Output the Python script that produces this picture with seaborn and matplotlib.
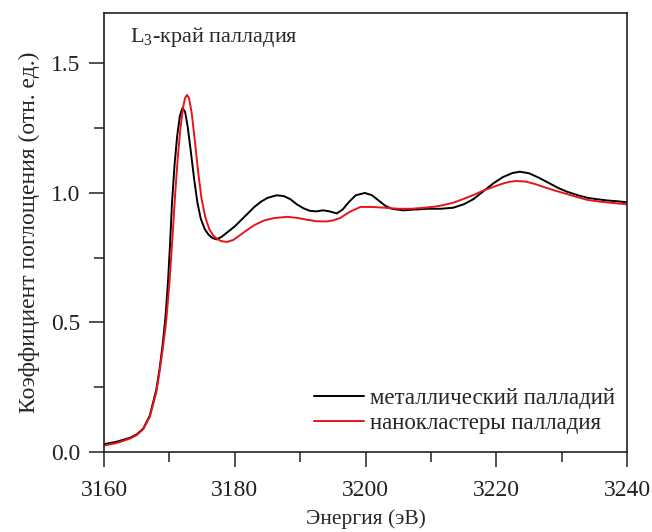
import numpy as np
import pandas as pd
import matplotlib
matplotlib.use("Agg")
import matplotlib.pyplot as plt
import seaborn as sns
from matplotlib.ticker import MultipleLocator

# Energy (eV) and absorption for metallic Pd
metal_E = [3160, 3162, 3164, 3165, 3166, 3167, 3168, 3168.5, 3169, 3169.4, 3169.8, 3170.1, 3170.4,
           3170.8, 3171.2, 3171.6, 3172.0, 3172.4, 3172.8, 3173.3, 3173.8, 3174.3, 3174.8, 3175.4,
           3176.0, 3176.6, 3177.2, 3178.0, 3179.0, 3180.0, 3181.0, 3182.0, 3183.0, 3184.0, 3185.0,
           3186.4, 3187.5, 3188.5, 3189.5, 3190.5, 3191.5, 3192.5, 3193.5, 3194.5, 3195.6, 3196.5,
           3197.5, 3198.5, 3199.9, 3201.0, 3202.0, 3203.0, 3204.0, 3205.7, 3207.5, 3209.5, 3211.5,
           3213.4, 3215.0, 3216.5, 3218.0, 3219.5, 3221.0, 3222.5, 3223.6, 3225.0, 3226.5, 3228.0,
           3229.5, 3230.8, 3232.5, 3234.0, 3235.4, 3237.0, 3238.5, 3240]
metal_mu = [0.030, 0.040, 0.055, 0.068, 0.090, 0.140, 0.240, 0.320, 0.420, 0.520, 0.660, 0.800, 0.960,
            1.110, 1.220, 1.295, 1.327, 1.312, 1.255, 1.155, 1.050, 0.960, 0.900, 0.860,
            0.838, 0.825, 0.820, 0.830, 0.850, 0.870, 0.895, 0.920, 0.945, 0.965, 0.980,
            0.990, 0.987, 0.975, 0.955, 0.940, 0.930, 0.928, 0.932, 0.928, 0.920, 0.935,
            0.965, 0.990, 0.999, 0.990, 0.970, 0.950, 0.938, 0.932, 0.935, 0.938, 0.938,
            0.942, 0.955, 0.975, 1.005, 1.035, 1.060, 1.076, 1.081, 1.075, 1.058, 1.038,
            1.018, 1.004, 0.990, 0.980, 0.975, 0.970, 0.967, 0.963]

# Energy (eV) and absorption for Pd nanoclusters
nano_E = [3160, 3162, 3164, 3165, 3166, 3167, 3168, 3168.5, 3169, 3169.5, 3170.0, 3170.4, 3170.9,
          3171.3, 3171.7, 3172.1, 3172.4, 3172.7, 3173.0, 3173.4, 3173.9, 3174.4, 3174.9, 3175.5,
          3176.1, 3176.7, 3177.4, 3178.0, 3178.8, 3179.8, 3181.0, 3182.0, 3183.0, 3184.5, 3186.0,
          3188.0, 3189.5, 3191.0, 3192.5, 3194.0, 3195.0, 3196.1, 3197.5, 3199.2, 3201.0, 3203.0,
          3205.0, 3207.0, 3209.0, 3210.5, 3211.9, 3213.5, 3215.0, 3216.5, 3218.0, 3219.5, 3221.0,
          3222.0, 3223.1, 3224.5, 3226.0, 3227.5, 3229.0, 3230.8, 3232.5, 3234.0, 3236.0, 3238.0, 3240]
nano_mu = [0.025, 0.035, 0.052, 0.065, 0.088, 0.135, 0.230, 0.310, 0.400, 0.500, 0.650, 0.800, 1.000,
           1.140, 1.250, 1.330, 1.365, 1.377, 1.365, 1.310, 1.200, 1.080, 0.980, 0.905,
           0.860, 0.835, 0.820, 0.813, 0.810, 0.818, 0.840, 0.858, 0.875, 0.893, 0.902,
           0.907, 0.903, 0.896, 0.890, 0.889, 0.893, 0.902, 0.925, 0.945, 0.945, 0.942,
           0.938, 0.938, 0.942, 0.946, 0.952, 0.962, 0.976, 0.991, 1.008, 1.022, 1.035,
           1.042, 1.045, 1.043, 1.033, 1.020, 1.008, 0.995, 0.982, 0.972, 0.965, 0.960, 0.955]

label_metal = "металлический палладий"
label_nano = "нанокластеры палладия"

df = pd.concat([
    pd.DataFrame({"E": metal_E, "mu": metal_mu, "sample": label_metal}),
    pd.DataFrame({"E": nano_E, "mu": nano_mu, "sample": label_nano}),
], ignore_index=True)

sns.set_style("ticks")
plt.rcParams['font.family'] = ['Liberation Serif', 'DejaVu Serif']
plt.rcParams['mathtext.fontset'] = 'custom'
plt.rcParams['mathtext.rm'] = 'Liberation Serif'

fig = plt.figure(figsize=(6.52, 5.32), dpi=100)
ax = fig.add_axes([104/652, 1 - 452/532, (627-104)/652, (452-13)/532])

sns.lineplot(data=df, x="E", y="mu", hue="sample",
             palette={label_metal: "black", label_nano: "#e8141b"},
             linewidth=1.4, ax=ax, sort=True, estimator=None)

ax.set_xlim(3160, 3240)
ax.set_ylim(0, 1.693)
ax.xaxis.set_major_locator(MultipleLocator(20))
ax.xaxis.set_minor_locator(MultipleLocator(10))
ax.yaxis.set_major_locator(MultipleLocator(0.5))
ax.yaxis.set_minor_locator(MultipleLocator(0.25))
ax.yaxis.set_major_formatter(matplotlib.ticker.FormatStrFormatter('%.1f'))
ax.tick_params(which='major', direction='out', length=11, width=1.1, labelsize=17, colors='#222222')
ax.tick_params(which='minor', direction='out', length=7, width=1.1, colors='#222222')
ax.tick_params(axis='x', which='major', pad=9)
ax.tick_params(axis='y', which='major', pad=6)
for s in ax.spines.values():
    s.set_visible(True)
    s.set_linewidth(1.2)
    s.set_color('#222222')

ax.set_xlabel("Энергия (эВ)", fontsize=15.5, labelpad=6)
ax.set_ylabel("Коэффициент поглощения (отн. ед.)", fontsize=17, labelpad=8)

ax.text(0.05, 0.945, r"L$_3$-край палладия", transform=ax.transAxes,
        fontsize=16, va='center', ha='left')

leg = ax.legend(loc='lower right', frameon=False, fontsize=16.5,
                handlelength=2.2, handletextpad=0.25, labelspacing=0.2,
                borderaxespad=0, borderpad=0,
                bbox_to_anchor=(0.977, 0.04))
for line in leg.get_lines():
    line.set_linewidth(1.4)

fig.savefig("out.png", dpi=100)
